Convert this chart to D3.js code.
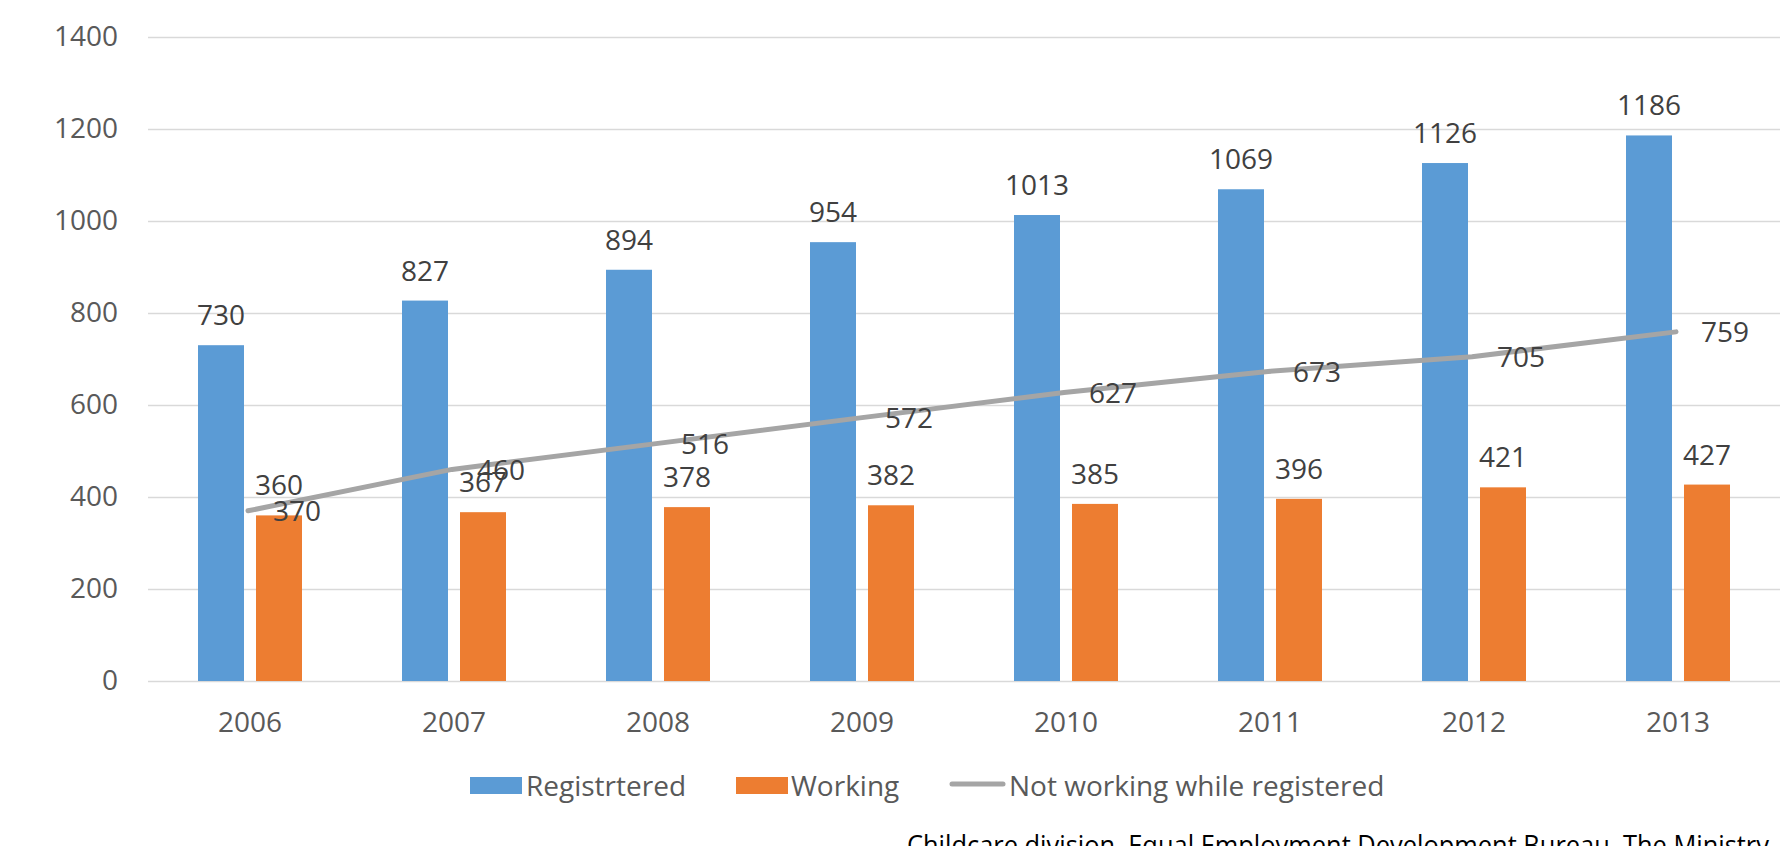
<!DOCTYPE html>
<html>
<head>
<meta charset="utf-8">
<script src="https://cdn.jsdelivr.net/npm/d3@7/dist/d3.min.js"></script>
<style>
  html, body { margin: 0; padding: 0; background: #ffffff; }
  svg { display: block; }
  text { font-family: "Open Sans", "Noto Sans", sans-serif; }
</style>
</head>
<body>
<svg id="chart" width="1782" height="846"></svg>
<script>
// ---- data ----
const years = ["2006", "2007", "2008", "2009", "2010", "2011", "2012", "2013"];
const registered = [730, 827, 894, 954, 1013, 1069, 1126, 1186];
const working = [360, 367, 378, 382, 385, 396, 421, 427];
const notWorking = [370, 460, 516, 572, 627, 673, 705, 759];
const yTicks = [0, 200, 400, 600, 800, 1000, 1200, 1400];
const seriesNames = ["Registrtered", "Working", "Not working while registered"];
const sourceText = "Childcare division, Equal Employment Development Bureau, The Ministry";

// ---- layout ----
const W = 1782, H = 846;
const plotLeft = 148, plotRight = 1780, plotTop = 37, plotBottom = 681;
const colors = { reg: "#5B9BD5", work: "#ED7D31", line: "#A5A5A5" };

const svg = d3.select("#chart");

const x = d3.scaleBand().domain(years).range([plotLeft, plotRight]).paddingInner(0).paddingOuter(0);
const groupWidth = 104;
const xs = d3.scaleBand().domain(["reg", "work"]).range([0, groupWidth]).paddingInner(12 / 58).paddingOuter(0);
const groupOffset = (x.bandwidth() - groupWidth) / 2;
const y = d3.scaleLinear().domain([0, 1400]).range([plotBottom, plotTop]);

// gridlines
const yAxis = d3.axisLeft(y).tickValues(yTicks).tickFormat(d3.format("d"))
  .tickSize(-(plotRight - plotLeft)).tickPadding(30);
const gy = svg.append("g").attr("transform", `translate(${plotLeft},0)`).call(yAxis);
gy.select(".domain").remove();
gy.selectAll(".tick line").attr("stroke", "#D9D9D9").attr("stroke-width", 1.5);
gy.selectAll(".tick text")
  .attr("x", -30)
  .attr("fill", "#595959")
  .style("font-size", "28px")
  .style("font-family", '"Open Sans", sans-serif');

// x axis labels
const xAxis = d3.axisBottom(x).tickSize(0).tickPadding(0);
const gx = svg.append("g").attr("transform", `translate(0,${plotBottom})`).call(xAxis);
gx.select(".domain").remove();
gx.selectAll(".tick text")
  .attr("y", 51)
  .attr("dy", 0)
  .attr("fill", "#595959")
  .style("font-size", "28px")
  .style("font-family", '"Open Sans", sans-serif');

// bars
const barData = years.map((yr, i) => ({ yr, reg: registered[i], work: working[i] }));
const seriesKeys = ["reg", "work"];
seriesKeys.forEach(key => {
  svg.append("g").selectAll("rect").data(barData).join("rect")
    .attr("x", d => x(d.yr) + groupOffset + xs(key))
    .attr("y", d => y(d[key]))
    .attr("width", xs.bandwidth())
    .attr("height", d => y(0) - y(d[key]))
    .attr("fill", colors[key]);
});

// line
const lineData = years.map((yr, i) => ({ yr, v: notWorking[i] }));
const cx = d => x(d.yr) + x.bandwidth() / 2 - 2;
const line = d3.line().x(cx).y(d => y(d.v));
svg.append("path").datum(lineData)
  .attr("d", line)
  .attr("fill", "none")
  .attr("stroke", colors.line)
  .attr("stroke-width", 5)
  .attr("stroke-linecap", "round")
  .attr("stroke-linejoin", "round");

// bar labels
seriesKeys.forEach(key => {
  svg.append("g").selectAll("text").data(barData).join("text")
    .attr("x", d => x(d.yr) + groupOffset + xs(key) + xs.bandwidth() / 2)
    .attr("y", d => y(d[key]) - 20)
    .attr("text-anchor", "middle")
    .attr("fill", "#404040")
    .style("font-size", "28px")
    .text(d => d[key]);
});

// line labels (right of point)
svg.append("g").selectAll("text").data(lineData).join("text")
  .attr("x", d => cx(d) + 25)
  .attr("y", d => y(d.v) + 10.5)
  .attr("fill", "#404040")
  .style("font-size", "28px")
  .text(d => d.v);

// legend
const legend = svg.append("g");
const legendY = 786;
const items = [
  { name: seriesNames[0], type: "rect", color: colors.reg, sx: 470, tx: 526 },
  { name: seriesNames[1], type: "rect", color: colors.work, sx: 736, tx: 791 },
  { name: seriesNames[2], type: "line", color: colors.line, sx: 950, tx: 1009 }
];
items.forEach(it => {
  if (it.type === "rect") {
    legend.append("rect").attr("x", it.sx).attr("y", legendY - 9).attr("width", 52).attr("height", 17).attr("fill", it.color);
  } else {
    legend.append("line").attr("x1", it.sx + 2).attr("x2", it.sx + 53).attr("y1", legendY - 2).attr("y2", legendY - 2)
      .attr("stroke", it.color).attr("stroke-width", 5).attr("stroke-linecap", "round");
  }
  legend.append("text").attr("x", it.tx).attr("y", legendY + 10)
    .attr("fill", "#595959").style("font-size", "28px").text(it.name);
});

// source text (cut off at bottom, as in the reference)
svg.append("text")
  .attr("x", 907)
  .attr("y", 855)
  .attr("fill", "#000000")
  .attr("textLength", 862)
  .attr("lengthAdjust", "spacingAndGlyphs")
  .style("font-size", "27px")
  .text(sourceText);
</script>
</body>
</html>
